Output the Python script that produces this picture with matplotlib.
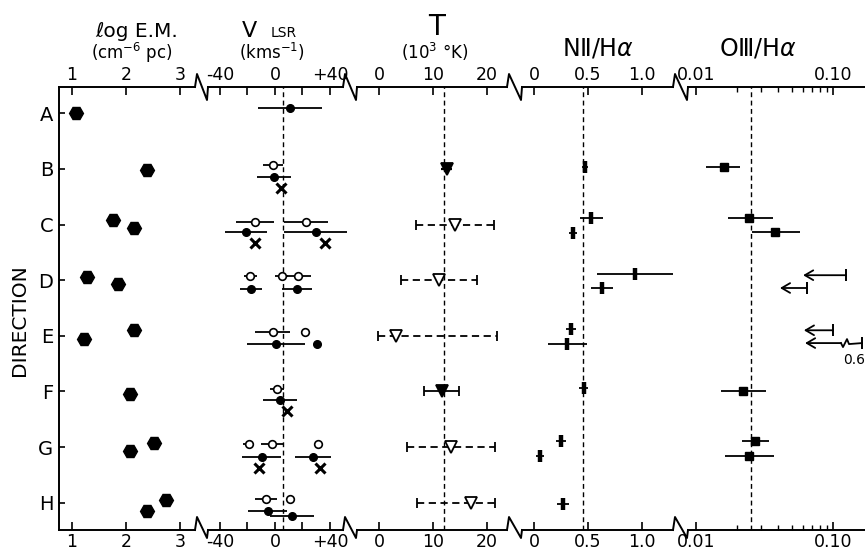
import matplotlib
matplotlib.use('Agg')
import matplotlib.pyplot as plt
from matplotlib.lines import Line2D
import numpy as np

plt.rcParams['font.family'] = ['DejaVu Sans']
plt.rcParams['mathtext.fontset'] = 'dejavusans'

# ---------------- data ----------------
directions = ['A', 'B', 'C', 'D', 'E', 'F', 'G', 'H']

# log emission measure (cm^-6 pc)
em_row = [1, 2, 3, 3, 4, 4, 5, 5, 6, 7, 7, 8, 8]
em_off = [0.0, 0.02, -0.08, 0.06, -0.06, 0.07, 0.06, -0.10, 0.05, -0.07, 0.07, -0.05, 0.15]
em_val = [1.07, 2.39, 1.76, 2.15, 1.28, 1.86, 1.23, 2.14, 2.07, 2.52, 2.07, 2.75, 2.38]

# V_LSR (km/s): open circles
vo_row = [2, 3, 3, 4, 4, 4, 5, 5, 6, 7, 7, 7, 8, 8]
vo_off = [-0.07, -0.05, -0.05, -0.08, -0.08, -0.08, -0.07, -0.07, -0.04, -0.06, -0.06, -0.06, -0.07, -0.07]
vo_val = [-1.5, -14.5, 22.5, -18.0, 4.8, 16.5, -1.7, 21.8, 1.6, -18.9, -2.4, 31.5, -6.5, 10.9]
vo_err = [7, 14, 16, 4.7, 5, 10, 12.7, 0, 5, 4, 8, 0, 8, 0]
# V_LSR filled circles
vf_row = [1, 2, 3, 3, 4, 4, 5, 5, 6, 7, 7, 8, 8]
vf_off = [-0.10, 0.14, 0.13, 0.13, 0.16, 0.16, 0.15, 0.15, 0.16, 0.18, 0.18, 0.15, 0.24]
vf_val = [11.0, -0.7, -21.0, 29.6, -17.7, 15.8, 0.7, 30.3, 3.6, -9.7, 27.9, -5.3, 12.4]
vf_err = [23, 12.7, 15, 23, 8, 11, 21, 0, 12.5, 14, 13, 14, 16]
# V_LSR crosses
vx_row = [2, 3, 3, 6, 7, 7]
vx_off = [0.34, 0.33, 0.33, 0.35, 0.37, 0.37]
vx_val = [4.4, -14.5, 36.4, 8.7, -11.5, 32.7]
v_ref = 6.0

# Temperature (10^3 K)
t_row = [2, 3, 4, 5, 6, 7, 8]
t_val = [12.5, 14.1, 11.1, 3.1, 11.7, 13.3, 17.0]
t_lo = [11.5, 6.8, 4.0, -0.2, 8.3, 5.1, 7.0]
t_hi = [13.5, 21.3, 18.1, 21.9, 14.8, 21.5, 21.5]
t_filled = [True, False, False, False, True, False, False]
t_capped = [False, True, True, True, True, True, True]
t_ref = 12.0

# [N II]/Halpha
n_row = [2, 3, 3, 4, 4, 5, 5, 6, 7, 7, 8]
n_off = [-0.03, -0.12, 0.15, -0.11, 0.14, -0.12, 0.15, -0.06, -0.11, 0.16, 0.02]
n_val = [0.47, 0.53, 0.36, 0.935, 0.63, 0.34, 0.31, 0.46, 0.25, 0.055, 0.27]
n_err = [0.03, 0.106, 0.04, 0.35, 0.10, 0.046, 0.18, 0.04, 0.045, 0.037, 0.055]
n_ref = 0.45

# [O III]/Halpha
o_row = [2, 3, 3, 6, 7, 7]
o_off = [-0.03, -0.12, 0.13, 0.0, -0.11, 0.16]
o_val = [0.016, 0.0244, 0.0377, 0.022, 0.027, 0.0244]
o_lo = [0.0118, 0.0171, 0.0256, 0.0152, 0.0216, 0.0163]
o_hi = [0.0209, 0.0365, 0.0575, 0.0324, 0.034, 0.037]
# upper limits
ul_row = [4, 4, 5, 5]
ul_off = [-0.09, 0.14, -0.10, 0.13]
ul_val = [0.124, 0.0645, 0.100, 0.6]
ul_tip = [0.0605, 0.041, 0.0613, 0.0625]
o_ref = 0.025

# ---------------- layout ----------------
W, H = 865, 552
fig = plt.figure(figsize=(W / 100, H / 100), dpi=100)
fig.patch.set_facecolor('white')

def fx(x):
    return x / W

def fy(y):
    return 1 - y / H

Y_TOP, Y_BOT = 87, 530
panels = [(59, 195), (208, 343), (357, 507), (522, 673), (688, 865)]
xlims = [(0.759, 3.278), (-48.7, 49.5), (-4.07, 23.7), (-0.111, 1.287), (0.00874, 0.1712)]
ylims = (8.49, 0.527)

axes = []
for i, ((x0, x1), xl) in enumerate(zip(panels, xlims)):
    ax = fig.add_axes([fx(x0), fy(Y_BOT), (x1 - x0) / W, (Y_BOT - Y_TOP) / H])
    ax.patch.set_alpha(0)
    if i == 4:
        ax.set_xscale('log')
    ax.set_xlim(*xl)
    ax.set_ylim(*ylims)
    for s in ['left', 'right']:
        ax.spines[s].set_visible(i == 0 and s == 'left')
    for s in ['top', 'bottom', 'left']:
        ax.spines[s].set_linewidth(1.4)
    ax.tick_params(axis='x', which='major', direction='in', top=True, bottom=True,
                   labeltop=True, labelbottom=True, length=6, width=1.2,
                   labelsize=12.5, pad=2)
    ax.tick_params(axis='x', which='minor', direction='in', top=True, bottom=True,
                   length=3.5, width=1.0)
    axes.append(ax)

ax_em, ax_v, ax_t, ax_n, ax_o = axes

# y axis on first panel
ax_em.set_yticks(range(1, 9))
ax_em.set_yticklabels(directions, fontsize=14)
ax_em.tick_params(axis='y', direction='in', length=4.5, width=1.2, pad=4)
for ax in axes[1:]:
    ax.set_yticks([])

# x ticks
ax_em.set_xticks([1, 2, 3]); ax_em.set_xticklabels(['1', '2', '3'])
ax_v.set_xticks([-40, -20, 0, 20, 40]); ax_v.set_xticklabels(['-40', '', '0', '', '+40'])
ax_t.set_xticks([0, 10, 20]); ax_t.set_xticklabels(['0', '10', '20'])
ax_n.set_xticks([0, 0.5, 1.0]); ax_n.set_xticklabels(['0', '0.5', '1.0'])
ax_o.set_xticks([0.01, 0.1]); ax_o.set_xticklabels(['0.01', '0.10'])
ax_o.set_xticks([0.02, 0.03, 0.04, 0.05, 0.06, 0.07, 0.08, 0.09], minor=True)
ax_o.set_xticklabels([], minor=True)

# ---------------- axis breaks ----------------
def break_shape(xs, xe, y, up, down):
    return [xs, xs + 2, xe - 1, xe], [y, y - up, y + down, y]

for i in range(len(panels) - 1):
    xs, xe = panels[i][1], panels[i + 1][0]
    for y, up, down in [(Y_TOP, 13, 13), (Y_BOT, 13, 8)]:
        bx, by = break_shape(xs, xe, y, up, down)
        fig.add_artist(Line2D([fx(v) for v in bx], [fy(v) for v in by],
                              color='k', lw=1.4, transform=fig.transFigure))

# ---------------- titles ----------------
fig.text(fx(137), fy(37), 'ℓog E.M.', ha='center', va='baseline', fontsize=14.5)
fig.text(fx(132), fy(59), '(cm$^{-6}$ pc)', ha='center', va='baseline', fontsize=12)
fig.text(fx(249), fy(37), 'V', ha='center', va='baseline', fontsize=16)
fig.text(fx(284), fy(37), 'LSR', ha='center', va='baseline', fontsize=10)
fig.text(fx(272), fy(59), '(kms$^{-1}$)', ha='center', va='baseline', fontsize=12)
fig.text(fx(437), fy(35), 'T', ha='center', va='baseline', fontsize=20)
fig.text(fx(435), fy(59), '(10$^{3}$ °K)', ha='center', va='baseline', fontsize=12)
fig.text(fx(598), fy(55), 'NⅡ/H$\\alpha$', ha='center', va='baseline', fontsize=17)
fig.text(fx(758), fy(55), 'OⅢ/H$\\alpha$', ha='center', va='baseline', fontsize=17)
fig.text(fx(20), fy(320), 'DIRECTION', ha='center', va='center', rotation=90, fontsize=14.5)

# ---------------- data marks ----------------
K = 'k'
# log EM
ax_em.plot(em_val, np.array(em_row) + np.array(em_off), ls='none', marker='H',
           ms=10, color=K, clip_on=False)

# V_LSR
ax_v.axvline(v_ref, color=K, lw=1.0, ls=(0, (3.5, 2.5)))
ax_v.errorbar(vo_val, np.array(vo_row) + np.array(vo_off), xerr=vo_err, fmt='o',
              ms=5.5, mfc='white', mec=K, mew=1.2, ecolor=K, elinewidth=1.3,
              capsize=0, clip_on=False, zorder=3)
ax_v.errorbar(vf_val, np.array(vf_row) + np.array(vf_off), xerr=vf_err, fmt='o',
              ms=5.5, mfc=K, mec=K, ecolor=K, elinewidth=1.3, capsize=0,
              clip_on=False, zorder=3)
ax_v.plot(vx_val, np.array(vx_row) + np.array(vx_off), ls='none', marker='x',
          ms=6.5, mew=2.2, color=K, clip_on=False)

# Temperature
ax_t.axvline(t_ref, color=K, lw=1.0, ls=(0, (3.5, 2.5)))
for r, v, lo, hi, f, c in zip(t_row, t_val, t_lo, t_hi, t_filled, t_capped):
    eb = ax_t.errorbar([v], [r], xerr=[[v - lo], [hi - v]], fmt='v', ms=8,
                       mfc=K if f else 'white', mec=K, mew=1.3, ecolor=K,
                       elinewidth=1.6 if not c else 1.3,
                       capsize=3.5 if c else 0, capthick=1.3, zorder=3)
    if not f:
        eb[2][0].set_linestyle((0, (4, 2.5)))

# N II / Halpha
ax_n.axvline(n_ref, color=K, lw=1.0, ls=(0, (3.5, 2.5)))
ax_n.errorbar(n_val, np.array(n_row) + np.array(n_off), xerr=n_err, fmt='|',
              ms=8, mew=3.2, color=K, ecolor=K, elinewidth=1.3, capsize=0,
              clip_on=False, zorder=3)

# O III / Halpha
ax_o.axvline(o_ref, color=K, lw=1.0, ls=(0, (3.5, 2.5)))
ov = np.array(o_val)
ax_o.errorbar(o_val, np.array(o_row) + np.array(o_off),
              xerr=[ov - np.array(o_lo), np.array(o_hi) - ov], fmt='s', ms=5.5,
              color=K, ecolor=K, elinewidth=1.3, capsize=0, zorder=3)

def o_px(px):
    # value shown at a given pixel column of the O III panel (for the broken arrow)
    lo, hi = np.log10(xlims[4][0]), np.log10(xlims[4][1])
    x0, x1 = panels[4]
    return 10 ** (lo + (px - x0) / (x1 - x0) * (hi - lo))

xmax = xlims[4][1]
dy = 1 / 55.63
for r, off, lim, tip in zip(ul_row, ul_off, ul_val, ul_tip):
    y = r + off
    if lim < xmax:
        start = lim
        cap = lim
    else:
        start = o_px(841)
        cap = o_px(862)
        zx = [o_px(841), o_px(843), o_px(847), o_px(849), o_px(862)]
        zy = [y, y + 4 * dy, y - 4 * dy, y + 1 * dy, y]
        ax_o.plot(zx, zy, color=K, lw=1.3, clip_on=False)
        ax_o.text(o_px(843), y + 0.30, f'{lim:.1f}', fontsize=10, ha='left',
                  va='center', clip_on=False)
    ax_o.annotate('', xy=(tip, y), xytext=(start, y),
                  arrowprops=dict(arrowstyle='->,head_length=0.6,head_width=0.35',
                                  lw=1.3, color=K, shrinkA=0, shrinkB=0))
    ax_o.plot([cap], [y], marker='|', ms=8, mew=1.4, color=K, clip_on=False)

fig.savefig('out.png', dpi=100, facecolor='white')
